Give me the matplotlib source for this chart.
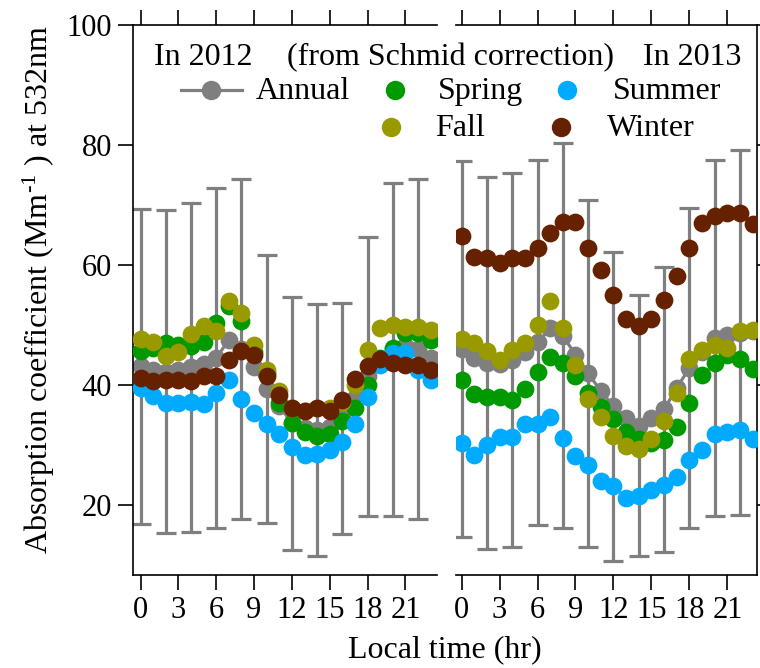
import matplotlib
matplotlib.use("Agg")
import matplotlib.pyplot as plt
from matplotlib.lines import Line2D
import numpy as np

plt.rcParams['font.family'] = ['Liberation Serif', 'DejaVu Serif']
plt.rcParams['mathtext.fontset'] = 'custom'
plt.rcParams['mathtext.rm'] = 'Liberation Serif'
plt.rcParams['mathtext.it'] = 'Liberation Serif:italic'

hours = list(range(24))
bar_hours = list(range(0, 24, 2))
xticks = [0, 3, 6, 9, 12, 15, 18, 21]
yticks = [20, 40, 60, 80, 100]

# ---- 2012 ----
annual_2012 = [43.1, 42.5, 42.2, 42.5, 42.9, 43.5, 44.5, 47.5, 46.0, 43.0, 39.3, 36.5,
               33.6, 32.8, 32.5, 33.0, 34.4, 37.8, 41.4, 44.0, 45.9, 46.5, 46.0, 44.5]
err_2012 = [26.3, 26.9, 27.5, 28.3, 28.3, 22.4, 21.1, 21.0, 19.2, 23.2, 27.7, 28.3]
spring_2012 = [45.6, 46.2, 47.0, 46.7, 46.4, 47.2, 50.3, 53.1, 50.6, 45.5, 42.0, 37.0,
               33.6, 32.2, 31.4, 31.8, 33.9, 36.1, 40.0, 44.5, 46.1, 48.6, 48.6, 47.5]
summer_2012 = [39.4, 38.1, 37.0, 37.0, 37.1, 36.8, 38.6, 40.8, 37.6, 35.3, 33.5, 31.8,
               29.7, 28.3, 28.5, 29.2, 30.4, 33.5, 38.0, 43.3, 45.3, 45.3, 42.5, 40.8]
fall_2012 = [47.6, 47.2, 44.8, 45.4, 48.5, 49.8, 48.9, 53.9, 51.9, 46.7, 42.5, 38.9,
             36.1, 35.6, 36.1, 36.1, 37.2, 40.0, 45.8, 49.4, 50.0, 49.7, 49.7, 49.2]
winter_2012 = [41.1, 40.6, 40.8, 40.8, 40.6, 41.4, 41.4, 44.2, 45.6, 45.0, 41.4, 38.3,
               36.1, 35.7, 36.1, 35.7, 37.5, 41.0, 43.1, 44.3, 43.6, 43.3, 43.3, 42.4]

# ---- 2013 ----
annual_2013 = [46.0, 44.5, 43.7, 43.4, 44.1, 45.5, 47.1, 49.4, 48.2, 45.0, 41.9, 39.0,
               36.4, 34.5, 33.2, 34.5, 35.9, 39.5, 42.8, 45.5, 47.8, 48.3, 48.7, 49.0]
err_2013 = [31.4, 31.0, 31.2, 30.4, 32.1, 29.0, 25.7, 21.8, 23.7, 26.7, 29.7, 30.4]
spring_2013 = [40.8, 38.5, 37.9, 37.9, 37.5, 39.3, 42.2, 44.6, 43.6, 41.4, 38.7, 36.3,
               34.3, 32.2, 31.0, 30.3, 30.8, 33.0, 36.9, 41.7, 43.7, 45.0, 44.3, 42.6]
summer_2013 = [30.3, 28.3, 30.0, 31.3, 31.3, 33.5, 33.5, 34.7, 31.1, 28.2, 26.7, 23.9,
               23.1, 21.1, 21.4, 22.4, 23.3, 24.7, 27.5, 29.2, 31.8, 32.2, 32.5, 31.0]
fall_2013 = [47.6, 46.9, 45.6, 44.2, 45.8, 46.9, 50.0, 53.9, 49.4, 43.3, 37.6, 34.7,
             31.4, 29.8, 29.3, 30.9, 33.9, 38.6, 44.3, 45.8, 46.7, 46.1, 48.9, 49.2]
winter_2013 = [64.8, 61.3, 61.1, 60.4, 61.1, 61.1, 62.9, 65.3, 67.2, 67.2, 62.9, 59.2,
               55.0, 51.0, 49.8, 51.0, 54.2, 58.2, 62.9, 67.0, 68.2, 68.7, 68.7, 66.8]

c_annual = '#7f7f7f'
c_spring = '#009a00'
c_summer = '#00aaff'
c_fall = '#999900'
c_winter = '#662200'

fig = plt.figure(figsize=(7.6, 6.68), dpi=100)
W, H = 760.0, 668.0
ax1 = fig.add_axes([133 / W, 1 - 575 / H, 304 / W, 550 / H])
ax2 = fig.add_axes([456.5 / W, 1 - 575 / H, 300 / W, 550 / H])

ms = 12.8
panels = [
    (ax1, annual_2012, err_2012, spring_2012, summer_2012, fall_2012, winter_2012, (-0.6, 23.5)),
    (ax2, annual_2013, err_2013, spring_2013, summer_2013, fall_2013, winter_2013, (-0.4, 23.3)),
]
for ax, ann, err, spr, sumr, fal, win, xl in panels:
    ann_even = [ann[h] for h in bar_hours]
    ax.errorbar(bar_hours, ann_even, yerr=err, fmt='none', ecolor=c_annual,
                elinewidth=2.3, capsize=7, capthick=2.3, zorder=1)
    ax.plot(hours, ann, '-o', color=c_annual, lw=2.3, ms=ms, mec='none', zorder=2)
    ax.plot(hours, spr, 'o', color=c_spring, ms=ms, mec='none', zorder=3)
    ax.plot(hours, sumr, 'o', color=c_summer, ms=ms, mec='none', zorder=4)
    ax.plot(hours, fal, 'o', color=c_fall, ms=ms, mec='none', zorder=5)
    ax.plot(hours, win, 'o', color=c_winter, ms=ms, mec='none', zorder=6)
    ax.set_xlim(*xl)
    ax.set_ylim(8.3, 100)
    ax.set_xticks(xticks)
    ax.set_yticks(yticks)
    ax.tick_params(axis='both', direction='out', length=11, width=1.2, labelsize=22, pad=4)
    ax.tick_params(axis='x', top=True, labeltop=False)
    for s in ax.spines.values():
        s.set_linewidth(1.2)

ax1.spines['right'].set_visible(False)
ax1.tick_params(axis='y', left=True, right=False, labelleft=True)
ax2.spines['left'].set_visible(False)
ax2.tick_params(axis='y', left=False, right=True, labelleft=False, labelright=False)

def fx(px):
    return px / W

def fy(py):
    return 1 - py / H

fs = 23
fig.text(fx(154), fy(65), 'In 2012', fontsize=fs, va='baseline', ha='left')
fig.text(fx(287), fy(65), '(from Schmid correction)', fontsize=fs, va='baseline', ha='left')
fig.text(fx(643), fy(65), 'In 2013', fontsize=fs, va='baseline', ha='left')

fig.add_artist(Line2D([fx(181), fx(242)], [fy(89.5), fy(89.5)], transform=fig.transFigure,
                      color=c_annual, lw=2.3))
fig.add_artist(Line2D([fx(211)], [fy(89.5)], transform=fig.transFigure, marker='o',
                      color=c_annual, ms=14, mec='none'))
fig.text(fx(256), fy(99), 'Annual', fontsize=fs, va='baseline', ha='left')

for (mx, my, col, lab, tx) in [(395, 89.5, c_spring, 'Spring', 438),
                               (567, 89.5, c_summer, 'Summer', 613),
                               (391, 127, c_fall, 'Fall', 435),
                               (561, 127, c_winter, 'Winter', 607)]:
    fig.add_artist(Line2D([fx(mx)], [fy(my)], transform=fig.transFigure, marker='o',
                          color=col, ms=14, mec='none'))
    fig.text(fx(tx), fy(my + 9.5), lab, fontsize=fs, va='baseline', ha='left')

fig.text(fx(445), fy(650), 'Local time (hr)', fontsize=fs, ha='center', va='center')
fig.text(fx(39), fy(290), 'Absorption coefficient (Mm$^{\\text{-}1}$ ) at 532nm',
         fontsize=fs, rotation=90, ha='center', va='center')

fig.savefig('out.png', dpi=100)
